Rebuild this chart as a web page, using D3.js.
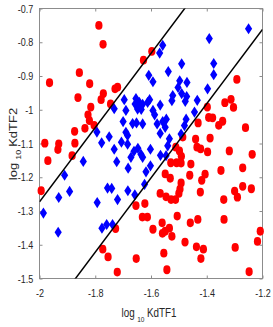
<!DOCTYPE html>
<html>
<head>
<meta charset="utf-8">
<script src="https://cdn.jsdelivr.net/npm/d3@7"></script>
<style>
body { margin: 0; background: #fff; }
svg { display: block; }
</style>
</head>
<body>
<svg id="chart"></svg>
<script>
const width = 273;
const height = 327;

const xTicks = [-2, -1.8, -1.6, -1.4, -1.2];
const yTicks = [-0.7, -0.8, -0.9, -1, -1.1, -1.2, -1.3, -1.4, -1.5];

// points outside the band (red circles)
const redPoints = [
  [-1.787,-0.750],[-1.772,-0.806],[-1.964,-0.920],[-1.857,-0.890],[-1.820,-0.923],[-1.862,-0.964],
  [-1.816,-0.992],[-1.771,-0.952],[-1.779,-0.970],[-1.729,-0.938],[-1.720,-0.933],[-1.745,-0.983],
  [-1.826,-1.015],[-1.821,-1.032],[-1.837,-1.055],[-1.804,-1.046],[-1.874,-1.064],[-1.873,-1.099],
  [-1.981,-1.099],[-1.931,-1.101],[-1.934,-1.118],[-1.970,-1.151],[-1.883,-1.136],[-1.597,-0.827],
  [-1.627,-0.853],[-1.994,-1.240],
  [-1.292,-0.910],[-1.398,-0.992],[-1.335,-0.979],[-1.313,-0.969],[-1.304,-0.993],[-1.393,-1.023],
  [-1.379,-1.024],[-1.431,-1.039],[-1.357,-1.046],[-1.343,-1.034],[-1.261,-1.053],[-1.486,-1.081],
  [-1.440,-1.087],[-1.388,-1.084],[-1.435,-1.111],[-1.422,-1.116],[-1.397,-1.125],[-1.319,-1.122],
  [-1.237,-1.132],[-1.511,-1.111],[-1.498,-1.122],[-1.491,-1.138],[-1.529,-1.157],[-1.508,-1.157],
  [-1.492,-1.158],[-1.457,-1.161],[-1.549,-1.190],[-1.531,-1.203],[-1.461,-1.194],[-1.406,-1.191],
  [-1.418,-1.209],[-1.349,-1.180],[-1.271,-1.172],[-1.271,-1.227],[-1.240,-1.234],[-1.492,-1.217],
  [-1.496,-1.235],[-1.500,-1.248],[-1.567,-1.248],[-1.546,-1.258],[-1.528,-1.266],[-1.512,-1.266],
  [-1.423,-1.244],[-1.339,-1.266],[-1.300,-1.241],[-1.290,-1.259],[-1.622,-1.278],[-1.654,-1.284],
  [-1.631,-1.318],[-1.613,-1.318],[-1.593,-1.354],[-1.560,-1.335],[-1.559,-1.366],[-1.549,-1.360],
  [-1.534,-1.351],[-1.525,-1.375],[-1.506,-1.315],[-1.459,-1.335],[-1.432,-1.325],[-1.338,-1.325],
  [-1.478,-1.392],[-1.437,-1.406],[-1.412,-1.413],[-1.421,-1.441],[-1.554,-1.425],[-1.543,-1.474],
  [-1.298,-1.408],[-1.218,-1.390],[-1.208,-1.360],[-1.248,-1.480],[-1.727,-1.352],[-1.773,-1.413],
  [-1.754,-1.436],[-1.721,-1.481],[-1.653,-1.441]
];

// points inside the band (blue diamonds)
const bluePoints = [
  [-1.250,-0.760],[-1.391,-0.789],[-1.558,-0.809],[-1.569,-0.832],[-1.490,-0.864],[-1.375,-0.863],
  [-1.538,-0.887],[-1.375,-0.896],[-1.608,-0.898],[-1.593,-0.917],[-1.497,-0.914],[-1.471,-0.919],
  [-1.503,-0.934],[-1.397,-0.938],[-1.490,-0.952],[-1.522,-0.958],[-1.525,-0.973],[-1.472,-0.961],
  [-1.477,-0.975],[-1.434,-0.972],[-1.444,-1.007],[-1.605,-0.970],[-1.567,-0.986],[-1.593,-1.002],
  [-1.587,-1.015],[-1.578,-1.042],[-1.558,-1.035],[-1.545,-1.028],[-1.549,-1.052],[-1.567,-1.070],
  [-1.474,-1.028],[-1.480,-1.047],[-1.492,-1.072],[-1.534,-1.086],[-1.696,-0.970],[-1.654,-0.967],
  [-1.657,-0.983],[-1.642,-0.978],[-1.630,-0.984],[-1.612,-0.978],[-1.732,-0.997],[-1.690,-1.002],
  [-1.648,-0.998],[-1.635,-0.999],[-1.700,-1.035],[-1.666,-1.041],[-1.652,-1.039],[-1.630,-1.042],
  [-1.794,-1.066],[-1.750,-1.080],[-1.690,-1.067],[-1.684,-1.076],[-1.706,-1.096],[-1.777,-1.098],
  [-1.732,-1.117],[-1.684,-1.102],[-1.661,-1.123],[-1.647,-1.114],[-1.636,-1.132],[-1.630,-1.141],
  [-1.602,-1.117],[-1.723,-1.154],[-1.672,-1.141],[-1.682,-1.173],[-1.618,-1.184],[-1.602,-1.166],
  [-1.540,-1.107],[-1.566,-1.135],[-1.546,-1.136],[-1.843,-1.153],[-1.910,-1.194],[-1.892,-1.242],
  [-1.931,-1.260],[-1.793,-1.275],[-1.756,-1.232],[-1.741,-1.233],[-1.720,-1.266],[-1.683,-1.240],
  [-1.658,-1.252],[-1.623,-1.221],[-1.986,-1.306],[-1.933,-1.363],[-1.776,-1.351],[-1.759,-1.340],
  [-1.738,-1.340]
];

// the two boundary lines: value at x = -2 and slope
const lineStart = [-1.273, -1.642];
const lineSlope = [1.1, 1.1];

const svg = d3.select('#chart')
  .attr('width', width)
  .attr('height', height)
  .style('font-family', '"Liberation Sans", Arial, sans-serif');

const x = d3.scaleLinear().domain([-2, -1.2]).range([39.5, 262.5]);
const y = d3.scaleLinear().domain([-1.5, -0.7]).range([278.5, 8.5]);

const axisColor = '#8c8c8c';
const textColor = '#262626';
const squeeze = 0.82;

svg.append('clipPath').attr('id', 'plot-clip')
  .append('rect')
  .attr('x', x(-2)).attr('y', y(-0.7))
  .attr('width', x(-1.2) - x(-2)).attr('height', y(-1.5) - y(-0.7));

// box
svg.append('rect')
  .attr('x', x(-2)).attr('y', y(-0.7))
  .attr('width', x(-1.2) - x(-2)).attr('height', y(-1.5) - y(-0.7))
  .attr('fill', 'none').attr('stroke', axisColor);

function styleAxis(g) {
  g.select('.domain').remove();
  g.selectAll('line').attr('stroke', axisColor);
  g.selectAll('text').attr('fill', textColor).style('font-size', '11px');
}

const fmt = d => String(d);

const xAxis = svg.append('g').attr('transform', `translate(0,${y(-1.5)})`)
  .call(d3.axisBottom(x).tickValues(xTicks).tickFormat(fmt).tickSizeInner(-3).tickSizeOuter(0).tickPadding(10.5))
  .call(styleAxis);
xAxis.selectAll('text').attr('transform', `scale(${squeeze},1)`);

svg.append('g').attr('transform', `translate(0,${y(-0.7)})`)
  .call(d3.axisTop(x).tickValues(xTicks).tickFormat('').tickSizeInner(-3).tickSizeOuter(0))
  .call(styleAxis);

const yAxis = svg.append('g').attr('transform', `translate(${x(-2)},0)`)
  .call(d3.axisLeft(y).tickValues(yTicks).tickFormat(fmt).tickSizeInner(-3).tickSizeOuter(0).tickPadding(7.5))
  .call(styleAxis);
yAxis.selectAll('text').attr('transform', `scale(${squeeze},1)`);

svg.append('g').attr('transform', `translate(${x(-1.2)},0)`)
  .call(d3.axisRight(y).tickValues(yTicks).tickFormat('').tickSizeInner(-3).tickSizeOuter(0))
  .call(styleAxis);

// markers
svg.append('g').selectAll('ellipse')
  .data(redPoints)
  .enter()
  .append('ellipse')
  .attr('cx', d => x(d[0]))
  .attr('cy', d => y(d[1]))
  .attr('rx', 3.6)
  .attr('ry', 4.4)
  .attr('fill', '#ff0000');

const diamond = 'M0,-5.6L3.6,0L0,5.6L-3.6,0Z';
svg.append('g').selectAll('path')
  .data(bluePoints)
  .enter()
  .append('path')
  .attr('d', diamond)
  .attr('transform', d => `translate(${x(d[0])},${y(d[1])})`)
  .attr('fill', '#0000ff');

// boundary lines
svg.append('g').attr('clip-path', 'url(#plot-clip)')
  .selectAll('line')
  .data(lineStart.map((b, i) => ({b: b, m: lineSlope[i]})))
  .enter()
  .append('line')
  .attr('x1', x(-2))
  .attr('y1', d => y(d.b))
  .attr('x2', x(-1.2))
  .attr('y2', d => y(d.b + d.m * 0.8))
  .attr('stroke', '#000')
  .attr('stroke-width', 1.5);

// axis labels
const xLabel = svg.append('text')
  .attr('transform', `translate(149,317) scale(${squeeze},1)`)
  .attr('text-anchor', 'middle')
  .attr('fill', textColor)
  .style('font-size', '12px');
xLabel.append('tspan').text('log');
xLabel.append('tspan').attr('dx', 3).attr('dy', 5).style('font-size', '8px').text('10');
xLabel.append('tspan').attr('dx', 3).attr('dy', -5).text('KdTF1');

const yLabel = svg.append('text')
  .attr('transform', `translate(17,144) scale(${squeeze},1) rotate(-90)`)
  .attr('text-anchor', 'middle')
  .attr('fill', textColor)
  .style('font-size', '13px');
yLabel.append('tspan').text('log');
yLabel.append('tspan').attr('dx', 3).attr('dy', 5).style('font-size', '9px').text('10');
yLabel.append('tspan').attr('dx', 3).attr('dy', -5).text('KdTF2');
</script>
</body>
</html>
